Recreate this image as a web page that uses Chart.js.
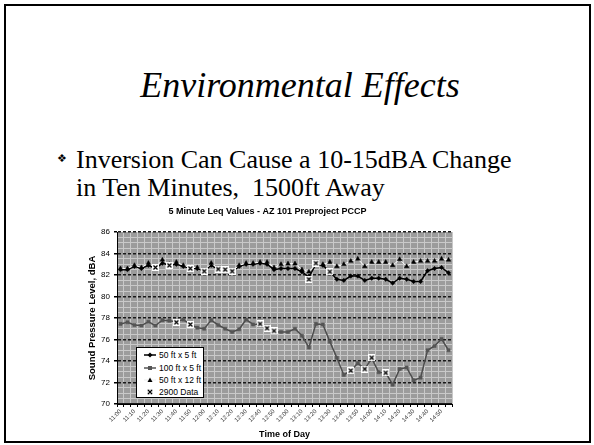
<!DOCTYPE html>
<html><head><meta charset="utf-8">
<script src="https://cdn.jsdelivr.net/npm/chart.js@4/dist/chart.umd.min.js"></script>
<style>
html,body{margin:0;padding:0;background:#fff;width:594px;height:445px;overflow:hidden;}
#frame{position:absolute;left:4px;top:4px;width:587px;height:439px;box-sizing:border-box;border:2px solid #000;}
#title{position:absolute;left:0;width:600px;top:67px;text-align:center;font:italic 36px "Liberation Serif";line-height:36px;color:#000;}
.bl{position:absolute;left:76px;font:26px "Liberation Serif";line-height:28px;white-space:nowrap;color:#000;}
#bul{position:absolute;left:57px;top:152px;font:11px "DejaVu Sans";color:#000;}
#wrap{position:absolute;left:50px;top:200px;width:440px;height:240px;}
#legend{position:absolute;left:136px;top:347px;width:68px;height:51px;box-sizing:border-box;border:1px solid #000;background:#fff;font:8.5px "Liberation Sans";color:#000;}
.row{position:absolute;left:7px;height:12px;display:flex;align-items:center;white-space:nowrap;}
.row svg{margin-right:3px;}
</style></head>
<body>
<div id="frame"></div>
<div id="title">Environmental Effects</div>
<div id="bul">❖</div>
<div class="bl" style="top:146px">Inversion Can Cause a 10-15dBA Change</div>
<div class="bl" style="top:174px">in Ten Minutes,&nbsp; 1500ft Away</div>
<div id="wrap"><canvas id="c" width="440" height="240"></canvas></div>
<div id="legend">
 <div class="row" style="top:1px"><svg width="12" height="8"><line x1="0" y1="4" x2="12" y2="4" stroke="#000" stroke-width="1.5"/><polygon points="6,1.5 8.5,4 6,6.5 3.5,4" fill="#000"/></svg><span>50 ft x 5 ft</span></div>
 <div class="row" style="top:13.5px"><svg width="12" height="8"><line x1="0" y1="4" x2="12" y2="4" stroke="#555" stroke-width="1.5"/><rect x="4" y="2" width="4" height="4" fill="#555"/></svg><span>100 ft x 5 ft</span></div>
 <div class="row" style="top:26px"><svg width="12" height="8"><line x1="0" y1="4" x2="12" y2="4" stroke="#eee" stroke-width="1"/><polygon points="6,1.5 8.5,6 3.5,6" fill="#000"/></svg><span>50 ft x 12 ft</span></div>
 <div class="row" style="top:38px"><svg width="12" height="8"><rect x="3.5" y="1.5" width="5" height="5" fill="#fff" stroke="#ccc" stroke-width="0.5"/><path d="M4,2 L8,6 M8,2 L4,6" stroke="#000" stroke-width="1.2"/></svg><span>2900 Data</span></div>
</div>
<script>
const times = ["11:00","11:05","11:10","11:15","11:20","11:25","11:30","11:35","11:40","11:45","11:50","11:55",
"12:00","12:05","12:10","12:15","12:20","12:25","12:30","12:35","12:40","12:45","12:50","12:55",
"13:00","13:05","13:10","13:15","13:20","13:25","13:30","13:35","13:40","13:45","13:50","13:55",
"14:00","14:05","14:10","14:15","14:20","14:25","14:30","14:35","14:40","14:45","14:50","14:55"];
const yTickLabels = [70,72,74,76,78,80,82,84,86];

const s50x5 = [82.5,82.5,82.8,82.6,82.9,82.6,83.1,82.9,83.0,82.8,
 82.6,82.6,82.4,82.9,82.5,82.4,82.3,82.8,83.0,83.0,
 83.1,83.0,82.5,82.6,82.6,82.6,82.3,81.8,83.0,82.9,
 82.3,81.6,81.5,81.9,81.9,81.5,81.7,81.7,81.6,81.25,
 81.7,81.6,81.4,81.4,82.4,82.6,82.7,82.2];
const s100x5 = [77.45,77.6,77.35,77.3,77.65,77.3,77.8,77.75,77.65,77.85,
 77.4,77.1,77.0,77.8,77.35,77.0,76.7,76.95,77.85,77.4,
 77.45,77.05,76.7,76.7,76.7,77.0,76.35,75.25,77.45,77.4,
 75.8,74.3,72.7,73.1,73.8,73.25,74.25,72.95,72.9,71.8,
 73.25,73.4,72.2,72.45,75.0,75.4,76.05,75.0];
const s50x12 = [82.6,82.6,82.9,82.7,83.1,82.7,83.4,83.0,83.2,82.9,
 82.7,82.7,82.4,83.1,82.6,82.5,82.4,82.9,83.1,83.1,
 83.2,83.2,82.7,83.0,83.05,83.05,82.5,82.3,83.0,83.0,
 83.2,82.8,83.0,83.3,83.5,82.8,83.2,83.2,83.2,82.9,
 83.45,82.8,83.2,83.3,83.3,83.3,83.5,83.4];
const s2900a = [null,null,null,null,null,82.7,null,82.9,null,null,
 82.6,null,82.35,null,82.55,82.5,82.35,null,null,null,
 null,null,null,null,null,null,null,81.6,83.1,null,
 82.3,null,null,null,null,null,null,null,null,null,
 null,null,null,null,null,null,null,null];
const s2900b = [null,null,null,null,null,null,null,null,77.6,null,
 77.4,null,null,null,null,null,null,null,null,null,
 77.45,77.05,76.8,null,null,null,null,null,null,null,
 null,null,null,73.1,null,73.25,74.3,null,72.9,null,
 null,null,null,null,null,null,null,null];

const xMark = document.createElement('canvas');
xMark.width = 7; xMark.height = 7;
(function(){const g = xMark.getContext('2d'); g.fillStyle='#fff'; g.fillRect(0,0,7,7);
 g.strokeStyle='#000'; g.lineWidth=1.3; g.beginPath(); g.moveTo(1.5,1.5); g.lineTo(5.5,5.5); g.moveTo(5.5,1.5); g.lineTo(1.5,5.5); g.stroke();})();

const plotBg = {id:'plotBg', beforeDraw(chart){const {ctx, chartArea:a} = chart; ctx.save(); ctx.fillStyle='#9c9c9c'; ctx.fillRect(a.left,a.top,a.right-a.left,a.bottom-a.top); ctx.restore();}};
const isMajor = v => Math.abs(v % 2) < 1e-9;

new Chart(document.getElementById('c'), {
  type:'line',
  data:{labels:times, datasets:[
    {label:'2900 Data', data:s2900a, showLine:false, pointStyle:xMark, order:0},
    {label:'2900 Data b', data:s2900b, showLine:false, pointStyle:xMark, order:0},
    {label:'50 ft x 12 ft', data:s50x12, borderColor:'#ffffff', borderWidth:1, pointStyle:'triangle', pointRadius:2.6, pointBackgroundColor:'#000', pointBorderColor:'#000', pointBorderWidth:0.5, order:1},
    {label:'100 ft x 5 ft', data:s100x5, borderColor:'#4d4d4d', borderWidth:1.5, pointStyle:'rect', pointRadius:2.2, pointBackgroundColor:'#555', pointBorderColor:'#555', pointBorderWidth:0.5, order:2},
    {label:'50 ft x 5 ft', data:s50x5, borderColor:'#000', borderWidth:1.5, pointStyle:'rectRot', pointRadius:2.2, pointBackgroundColor:'#000', pointBorderColor:'#000', pointBorderWidth:0.5, order:3}
  ]},
  options:{
    responsive:false, animation:false, devicePixelRatio:1,
    layout:{padding:{left:33,right:38,top:0,bottom:0}},
    elements:{line:{tension:0}},
    plugins:{legend:{display:false}, tooltip:{enabled:false},
      title:{display:true, text:'5 Minute Leq Values - AZ 101 Preproject PCCP', color:'#000', font:{family:'Liberation Sans', size:9, weight:'bold'}, padding:{top:6.6, bottom:14.6}}},
    scales:{
      x:{type:'category', offset:true,
        grid:{offset:true, color:'#c9c9c9', lineWidth:1, tickColor:'#000', tickLength:3},
        border:{color:'#000', width:1},
        ticks:{autoSkip:false, minRotation:45, maxRotation:45, padding:1, color:'#333', font:{family:'Liberation Sans', size:6},
          callback:(v,i)=> i%2===0 ? times[i] : ''},
        title:{display:true, text:'Time of Day', color:'#000', font:{family:'Liberation Sans', size:9, weight:'bold'}, padding:{top:0,bottom:0}},
        afterFit:s=>{s.height=36;}
      },
      y:{min:70, max:86,
        ticks:{stepSize:0.5, autoSkip:false, padding:4, color:'#000', font:{family:'Liberation Sans', size:8},
          callback:v=> yTickLabels.includes(v) ? String(v) : ''},
        grid:{color:c=> (c.tick && isMajor(c.tick.value)) ? '#1a1a1a' : '#c9c9c9',
              lineWidth:c=> (c.tick && isMajor(c.tick.value)) ? 1.5 : 1,
              tickColor:c=> (c.tick && isMajor(c.tick.value)) ? '#000' : 'rgba(0,0,0,0)', tickLength:3},
        border:{color:'#000', width:1, dash:c=> (c.tick && isMajor(c.tick.value) && c.tick.value>70) ? [3,2] : []},
        title:{display:true, text:'Sound Pressure Level, dBA', color:'#000', font:{family:'Liberation Sans', size:9.5, weight:'bold'}, padding:{top:4,bottom:2}},
        afterFit:s=>{s.width=34;}
      }
    }
  },
  plugins:[plotBg]
});
</script>
</body></html>
